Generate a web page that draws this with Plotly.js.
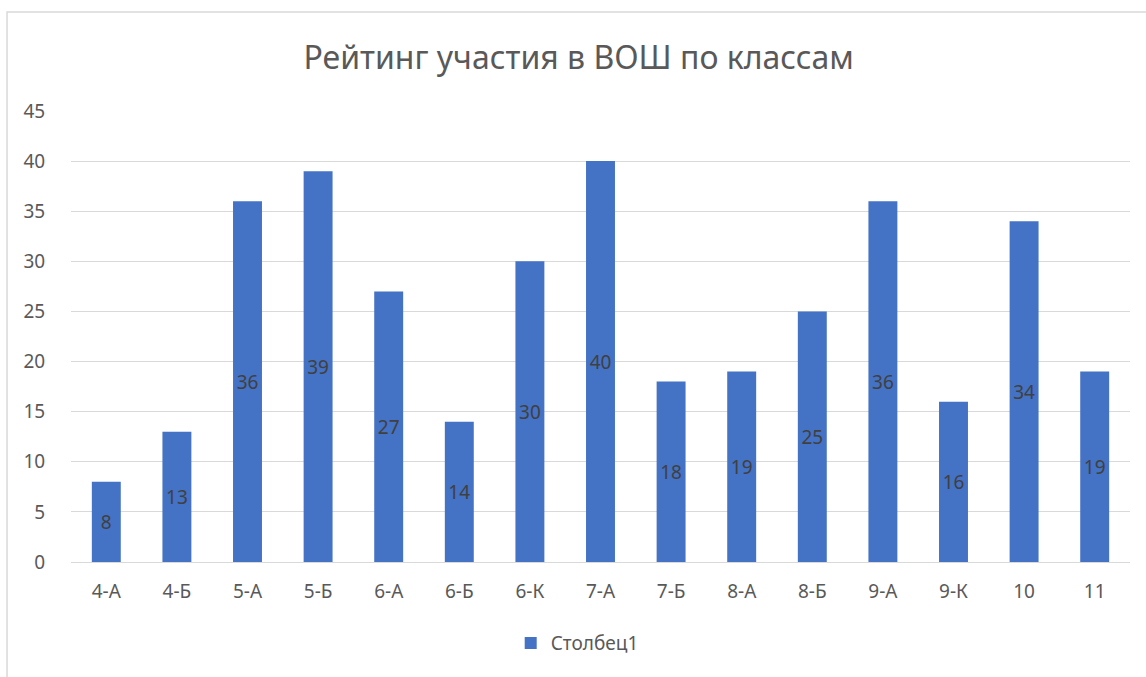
<!DOCTYPE html>
<html><head><meta charset="utf-8">
<script src="https://cdn.plot.ly/plotly-3.0.1.min.js"></script>
<style>html,body{margin:0;padding:0;background:#fff}#c{width:1146px;height:677px}</style>
</head><body><div id="c"></div>
<script>
const categories = ["4-А","4-Б","5-А","5-Б","6-А","6-Б","6-К","7-А","7-Б","8-А","8-Б","9-А","9-К","10","11"];
const values = [8,13,36,39,27,14,30,40,18,19,25,36,16,34,19];
const seriesName = "Столбец1";
const titleText = "Рейтинг участия в ВОШ по классам";
const yTicks = [0,5,10,15,20,25,30,35,40,45];

const font = "Noto Sans, Open Sans, sans-serif";
Plotly.newPlot("c", [{
  type: "bar", x: categories, y: values, name: seriesName,
  marker: {color: "#4472C4"},
  text: values.map(String), textposition: "inside", insidetextanchor: "middle",
  textfont: {family: font, size: 19, color: "#404040"}, constraintext: "none",
  hoverinfo: "skip"
}], {
  width: 1146, height: 677,
  margin: {l: 71, r: 16, t: 111, b: 115},
  paper_bgcolor: "#fff", plot_bgcolor: "#fff",
  bargap: 0.59,
  showlegend: true,
  legend: {orientation: "h", x: 0.478, xanchor: "center", y: -0.18, yanchor: "middle",
           itemwidth: 30,
           font: {family: font, size: 19, color: "#595959"}},
  title: {text: titleText, x: 0.505, xanchor: "center", y: 0.915, yanchor: "middle",
          font: {family: font, size: 32, color: "#595959"}},
  xaxis: {type: "category", tickfont: {family: font, size: 19, color: "#595959"},
          showline: true, linecolor: "#D9D9D9", linewidth: 1, ticks: "outside", ticklen: 12,
          tickcolor: "rgba(0,0,0,0)", showgrid: false, fixedrange: true},
  yaxis: {range: [0, 45], tickvals: yTicks, tickfont: {family: font, size: 19, color: "#595959"},
          showgrid: true, gridcolor: "#D9D9D9", gridwidth: 1, zeroline: false,
          ticks: "outside", ticklen: 21, tickcolor: "rgba(0,0,0,0)", showline: false, fixedrange: true},
  shapes: [{type: "rect", xref: "paper", yref: "paper", x0: -0.0604, x1: 1.2, y0: -0.5, y1: 1.2195,
            line: {color: "#D9D9D9", width: 1.5}, fillcolor: "rgba(0,0,0,0)", layer: "below"}]
}, {displayModeBar: false, staticPlot: true});
</script></body></html>
